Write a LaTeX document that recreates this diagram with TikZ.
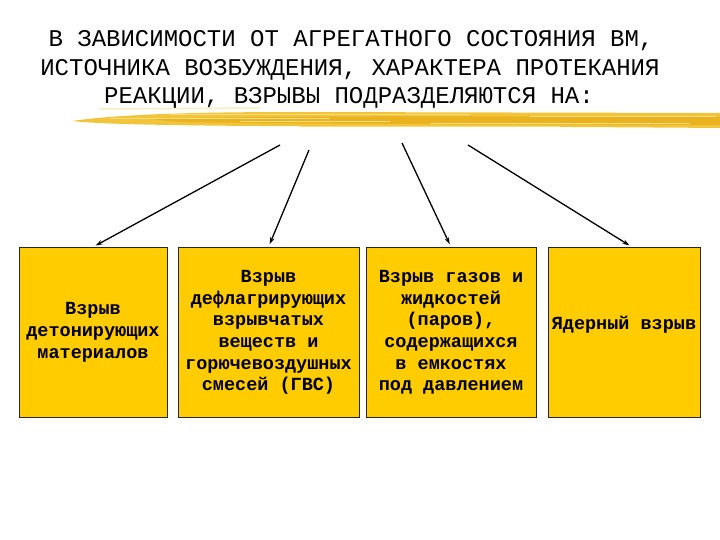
\documentclass[tikz,border=0pt]{standalone}
\usepackage{fontspec}
\setmainfont{Liberation Mono}
\usetikzlibrary{arrows.meta}
\begin{document}
\begin{tikzpicture}[x=1pt,y=-1pt]
\pgfmathsetmacro\boxtop{247};
\pgfmathsetmacro\boxh{170};
\definecolor{boxfill}{HTML}{FFCC00}
\definecolor{brush}{HTML}{F2C43A}
\definecolor{brushdark}{HTML}{E9B21E}
\definecolor{brushlight}{HTML}{F9DC7C}
\tikzset{box/.style = {draw = black!85, fill = boxfill, line width = 0.8pt, minimum height = \boxh pt, inner sep = 0pt, anchor = north, align = center, font = \fontsize{18.5}{21.7}\selectfont\bfseries},
  arr/.style = {-{Stealth[length=7pt,width=4.5pt]}, line width = 1.3pt, shorten >= 3pt},
  title/.style = {font = \fontsize{24}{29}\selectfont}}
\useasboundingbox (0,0) rectangle (720,540);
\node[title] (t1) at (351,41) {В ЗАВИСИМОСТИ ОТ АГРЕГАТНОГО СОСТОЯНИЯ ВМ,};
\node[title] (t2) at (350,70) {ИСТОЧНИКА ВОЗБУЖДЕНИЯ, ХАРАКТЕРА ПРОТЕКАНИЯ};
\node[title] (t3) at (349,98) {РЕАКЦИИ, ВЗРЫВЫ ПОДРАЗДЕЛЯЮТСЯ НА:};
\fill[brush] (72,121) .. controls (120,114) and (200,112) .. (300,112) -- (720,113) -- (720,128) .. controls (600,127) and (400,126) .. (250,126) .. controls (150,125) and (100,124) .. cycle;
\fill[brushdark] (150,119) .. controls (250,116) and (450,116) .. (720,117) -- (720,125) .. controls (500,124) and (300,124) .. (180,122) -- cycle;
\foreach \y/\a/\b in {114/170/470, 118/110/330, 123/430/690, 116/530/716, 121/240/390, 126/300/560}
  \draw[brushlight, line width = 0.9pt] (\a,\y) -- (\b,\y);
\draw[brushlight!50, line width = 1.5pt] (100,109) -- (260,108);
\node[box, minimum width = 148pt] (b1) at (93,\boxtop) {Взрыв\\детонирующих\\материалов};
\node[box, minimum width = 181pt] (b2) at (268.5,\boxtop) {Взрыв\\дефлагрирующих\\взрывчатых\\веществ и\\горючевоздушных\\смесей (ГВС)};
\node[box, minimum width = 170pt] (b3) at (451,\boxtop) {Взрыв газов и\\жидкостей\\(паров),\\содержащихся\\в емкостях\\под давлением};
\node[box, minimum width = 152pt, text depth = 20pt] (b4) at (624,\boxtop) {Ядерный взрыв};
\coordinate (s1) at (280,145);
\coordinate (s2) at (309,150);
\coordinate (s3) at (402,143);
\coordinate (s4) at (468,145);
\foreach \s/\b in {s1/b1, s2/b2, s3/b3}
  \draw[arr] (\s) -- (\b.north);
\draw[arr] (s4) -- ([xshift=8pt]b4.north);
\end{tikzpicture}
\end{document}
